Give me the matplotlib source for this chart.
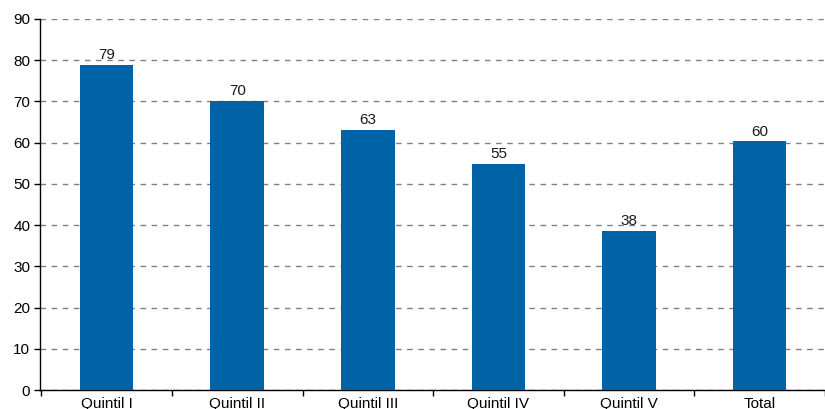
import matplotlib.pyplot as plt
import numpy as np

plt.rcParams['font.family'] = ['Liberation Sans', 'DejaVu Sans']

categories = ['Quintil I', 'Quintil II', 'Quintil III', 'Quintil IV', 'Quintil V', 'Total']
values = [78.8, 70.1, 63.0, 54.8, 38.5, 60.3]
bar_color = '#0063a6'

fig = plt.figure(figsize=(8.25, 4.09), dpi=100)
ax = fig.add_axes([40 / 825, 19 / 409, 1 - 40 / 825, 371 / 409])

x = np.arange(len(categories))
ax.bar(x, values, width=0.41, color=bar_color, zorder=3)
for xi, v in zip(x, values):
    ax.text(xi, v + 0.7, '%d' % round(v), ha='center', va='bottom', fontsize=11, color='#1a1a1a')

ax.set_ylim(0, 90)
ax.set_yticks(range(0, 91, 10))
ax.set_xlim(-0.51, 5.44)

# ticks between categories, labels at centres
ax.set_xticks(np.arange(-0.5, 6, 1))
ax.set_xticklabels([])
ax.set_xticks(x, minor=True)
ax.set_xticklabels(categories, minor=True, fontsize=11)
ax.tick_params(axis='x', which='minor', length=0, pad=5)
ax.tick_params(axis='x', which='major', length=4, width=1, direction='out')
ax.tick_params(axis='y', length=4, width=1, labelsize=11, pad=3)

ax.yaxis.grid(True, linestyle=(0, (4, 4)), color='#808080', linewidth=1, zorder=0)
ax.set_axisbelow(True)
for s in ['top', 'right']:
    ax.spines[s].set_visible(False)
ax.spines['left'].set_linewidth(1)
ax.spines['bottom'].set_linewidth(1)

fig.savefig('out.png', dpi=100)
